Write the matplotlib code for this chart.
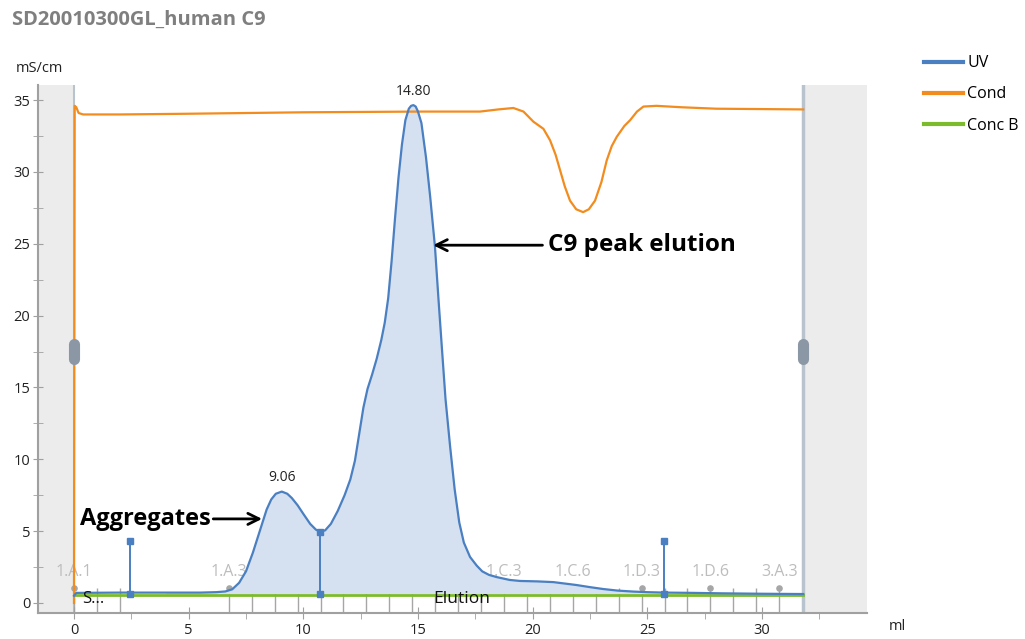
import matplotlib.pyplot as plt
from matplotlib.ticker import MultipleLocator

# UV trace (scaled onto the mS/cm axis as in the UNICORN view)
uv_x = [0.0, 0.1, 2.0, 4.0, 5.5, 6.2, 6.6, 6.9, 7.2, 7.5, 7.8, 8.1, 8.4, 8.6,
        8.8, 9.06, 9.3, 9.5, 9.75, 10.0, 10.3, 10.55, 10.73, 10.95, 11.2,
        11.5, 11.8, 12.05, 12.25, 12.45, 12.62, 12.8, 13.0, 13.2, 13.4, 13.55,
        13.7, 13.85, 14.0, 14.15, 14.3, 14.45, 14.6, 14.7, 14.8, 14.9, 15.0,
        15.15, 15.35, 15.53, 15.74, 15.9, 16.04, 16.2, 16.4, 16.6, 16.8, 17.0,
        17.27, 17.56, 17.8, 18.1, 18.43, 19.0, 19.45, 20.2, 20.9, 21.4, 21.9,
        22.5, 23.07, 23.7, 24.4, 25.0, 25.73, 27.0, 28.2, 30.0, 31.8]
uv_y = [0.5, 0.7, 0.72, 0.72, 0.72, 0.75, 0.8, 0.95, 1.4, 2.2, 3.5, 5.0, 6.5,
        7.2, 7.6, 7.75, 7.6, 7.3, 6.8, 6.2, 5.5, 5.1, 4.96, 5.05, 5.5, 6.4,
        7.5, 8.6, 9.9, 11.9, 13.6, 14.9, 15.9, 17.0, 18.3, 19.5, 21.2, 23.8,
        26.8, 29.6, 31.9, 33.6, 34.4, 34.6, 34.65, 34.55, 34.2, 33.4, 31.0,
        28.3, 24.8, 21.0, 17.8, 14.2, 10.9, 7.9, 5.6, 4.2, 3.2, 2.6, 2.2, 1.95,
        1.8, 1.6, 1.53, 1.5, 1.45, 1.35, 1.25, 1.1, 0.97, 0.86, 0.79, 0.75,
        0.72, 0.7, 0.67, 0.64, 0.62]

# Conductivity trace
cond_x = [0.0, 0.03, 0.1, 0.2, 0.4, 2.0, 5.0, 10.0, 15.0, 17.7, 18.5, 19.16,
          19.6, 20.03, 20.47, 20.76, 21.0, 21.2, 21.4, 21.63, 21.9, 22.2,
          22.45, 22.72, 23.0, 23.23, 23.45, 23.67, 24.0, 24.25, 24.55, 24.83,
          25.4, 26.5, 28.0, 31.8]
cond_y = [0.0, 34.6, 34.5, 34.1, 34.0, 34.0, 34.05, 34.15, 34.2, 34.2, 34.35,
          34.45, 34.2, 33.5, 33.0, 32.2, 31.2, 30.1, 29.0, 28.0, 27.4, 27.2,
          27.4, 28.0, 29.3, 30.8, 31.8, 32.45, 33.2, 33.6, 34.2, 34.55, 34.6,
          34.5, 34.4, 34.35]

# Conc B trace
concb_x = [0.0, 31.8]
concb_y = [0.55, 0.55]

# fractions
frac_edges = [0.0, 1.0, 2.0, 6.75, 7.75, 8.75, 9.75, 10.75, 11.75, 12.75,
              13.75, 14.75, 15.75, 16.75, 17.75, 18.75, 19.75, 20.75, 21.75,
              22.75, 23.75, 24.75, 25.75, 26.75, 27.75, 28.75, 29.75, 30.75]
frac_label_x = [0.0, 6.75, 9.75, 12.75, 15.75, 18.75, 21.75, 24.75, 27.75,
                30.75]
frac_labels = ['1.A.1', '1.A.3', '1.A.6', '1.B.3', '1.B.6', '1.C.3', '1.C.6',
               '1.D.3', '1.D.6', '3.A.3']

# peak integration limits
peak_lim_x = [2.44, 10.73, 25.73]
peak_lim_top = [4.3, 4.96, 4.3]
peak_lim_base = [0.65, 0.65, 0.65]
peak_tops_x = [9.06, 14.8]
peak_tops_y = [7.75, 34.65]
peak_tops_txt = ['9.06', '14.80']

run_end = 31.8

UV_C = '#4a7fc1'
COND_C = '#f28c1e'
CONCB_C = '#7cbb2c'

plt.rcParams['font.family'] = ['Open Sans', 'DejaVu Sans']

fig = plt.figure(figsize=(10.25, 6.39), dpi=100)
ax = fig.add_axes([38 / 1025, 1 - 613 / 639, 829 / 1025, 528 / 639])
ax.set_xlim(-1.57, 34.58)
ax.set_ylim(-0.7, 36.05)

# grey areas outside the run
ax.axvspan(-1.57, 0, color='#ececec', lw=0, zorder=0)
ax.axvspan(run_end, 34.58, color='#ececec', lw=0, zorder=0)
ax.axvline(0, color='#b9c3cd', lw=1.5, zorder=1)
ax.axvline(run_end, color='#b9c3cd', lw=2.5, zorder=1)

# fraction marks
ax.vlines(frac_edges, -0.7, 1.05, color='#a6a6a6', lw=1, zorder=1)
ax.scatter(frac_label_x, [1.05] * len(frac_label_x), s=14, color='#a6a6a6',
           zorder=2)
for fx, lab in zip(frac_label_x, frac_labels):
    ax.text(fx, 2.15, lab, ha='center', va='center', fontsize=11.5,
            color='#bdbdbd', zorder=2)

# UV fill between integration limits
fill_x = [x for x in uv_x if peak_lim_x[0] <= x <= peak_lim_x[2]]
fill_y = [y for x, y in zip(uv_x, uv_y) if peak_lim_x[0] <= x <= peak_lim_x[2]]
ax.fill_between(fill_x, 0.65, fill_y, color='#d5e1f0', lw=0, zorder=2)

ax.plot(concb_x, concb_y, color=CONCB_C, lw=2, zorder=3, label='Conc B')
ax.plot(cond_x, cond_y, color=COND_C, lw=1.6, zorder=4, label='Cond')
ax.plot(uv_x, uv_y, color=UV_C, lw=1.6, zorder=5, label='UV')

for px, top, base in zip(peak_lim_x, peak_lim_top, peak_lim_base):
    ax.plot([px, px], [base, top], color=UV_C, lw=1.4, marker='s', ms=5,
            zorder=6)

for px, py, t in zip(peak_tops_x, peak_tops_y, peak_tops_txt):
    ax.text(px, py + 0.45, t, ha='center', va='bottom', fontsize=10,
            color='#222222', zorder=7)

# handles on the run borders
for hx in [0, run_end]:
    ax.plot([hx, hx], [17.0, 18.0], color='#8b97a4', lw=8,
            solid_capstyle='round', zorder=6)

ax.text(0.35, 0.25, 'S...', fontsize=12, va='center', color='#111111',
        zorder=7)
ax.text(15.65, 0.3, 'Elution', fontsize=12.5, va='center', color='#111111',
        zorder=7)

# annotations
ax.annotate('Aggregates', xy=(8.2, 5.85), xytext=(0.25, 5.85),
            fontsize=17, fontweight='bold', va='center', ha='left',
            arrowprops=dict(arrowstyle='->', lw=2, color='black',
                            mutation_scale=20, shrinkA=0, shrinkB=0),
            zorder=8)
ax.annotate('C9 peak elution', xy=(15.66, 24.9), xytext=(20.67, 24.9),
            fontsize=17.5, fontweight='bold', va='center', ha='left',
            arrowprops=dict(arrowstyle='->', lw=2, color='black',
                            mutation_scale=20, shrinkA=2, shrinkB=0),
            zorder=8)

# axes styling
for s in ['top', 'right']:
    ax.spines[s].set_visible(False)
for s in ['left', 'bottom']:
    ax.spines[s].set_color('#a0a0a0')
    ax.spines[s].set_linewidth(1.5)
ax.set_facecolor('white')
ax.xaxis.set_minor_locator(MultipleLocator(2.5))
ax.yaxis.set_major_locator(MultipleLocator(5))
ax.yaxis.set_minor_locator(MultipleLocator(2.5))
ax.set_xticks([0, 5, 10, 15, 20, 25, 30])
ax.tick_params(axis='both', which='both', colors='#a0a0a0', labelsize=10.5,
               labelcolor='#222222')
ax.tick_params(axis='y', which='both', direction='inout', length=7, pad=2)
ax.tick_params(axis='x', which='major', direction='inout', length=8, pad=3)
ax.tick_params(axis='x', which='minor', direction='out', length=4)

fig.text(12 / 1025, 1 - 20 / 639, 'SD20010300GL_human C9', fontsize=14.5,
         fontweight='bold', color='#7f7f7f', va='center')
fig.text(16 / 1025, 1 - 68 / 639, 'mS/cm', fontsize=10.5, color='#222222',
         va='center')
fig.text(889 / 1025, 1 - 626 / 639, 'ml', fontsize=10.5, color='#222222',
         va='center')

handles, labels = ax.get_legend_handles_labels()
order = [2, 1, 0]
leg = fig.legend([handles[i] for i in order], [labels[i] for i in order],
                 loc='upper left', bbox_to_anchor=(0.887, 0.936),
                 frameon=False, fontsize=11.5, handlelength=2.5,
                 handletextpad=0.25, labelspacing=0.95)
for line in leg.get_lines():
    line.set_linewidth(3)

fig.savefig('out.png', dpi=100)
